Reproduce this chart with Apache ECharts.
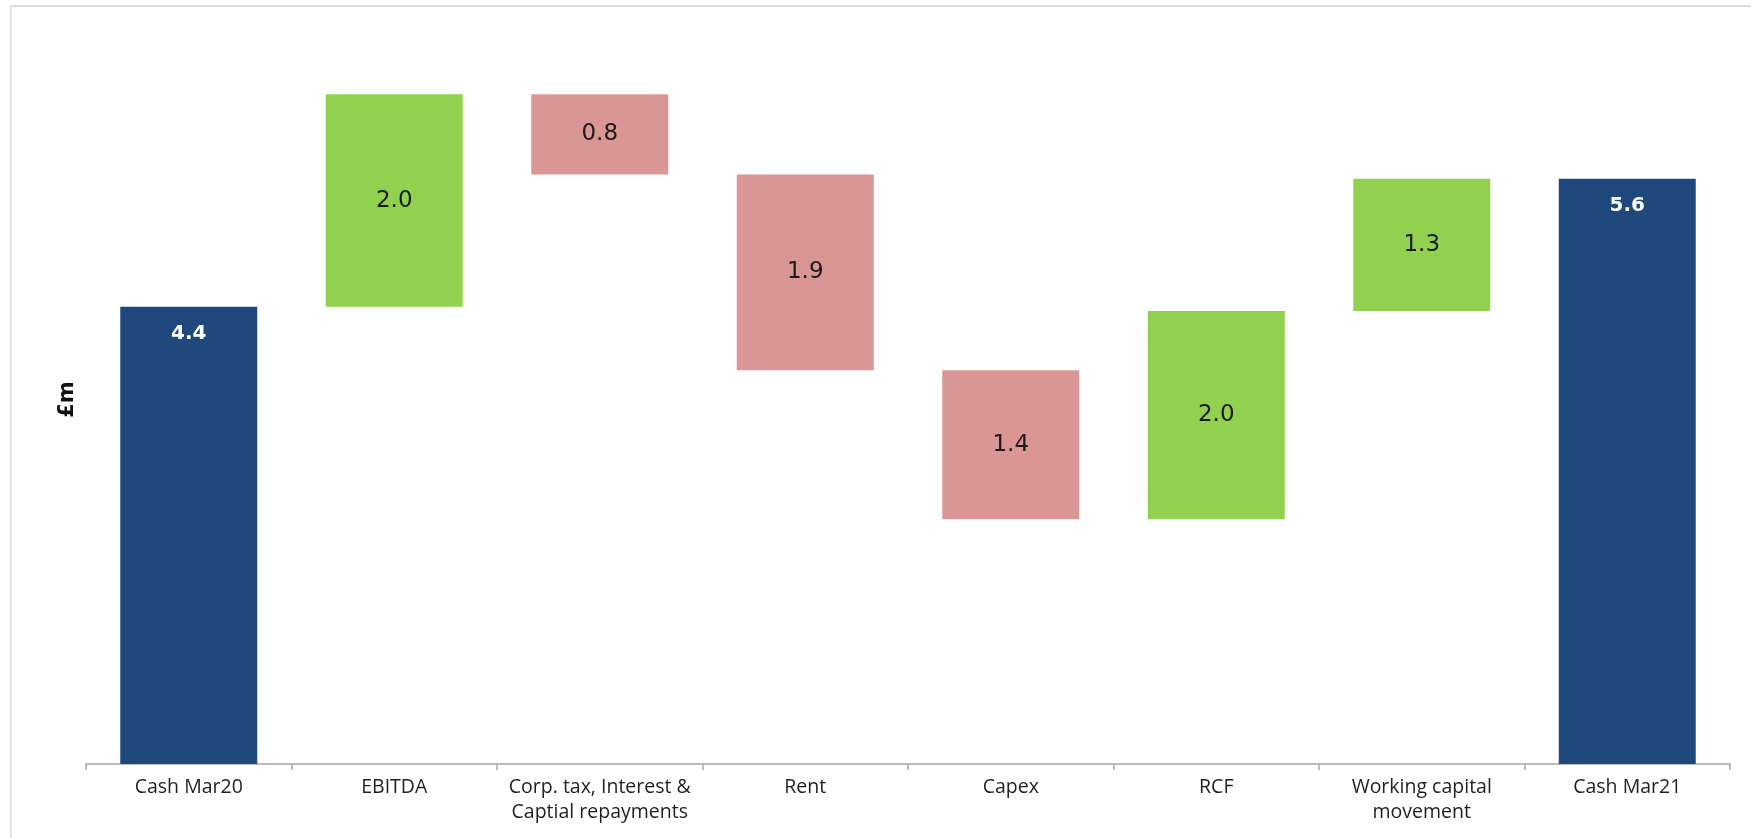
<!DOCTYPE html>
<html>
<head>
<meta charset="utf-8">
<script src="https://cdn.jsdelivr.net/npm/echarts@6/dist/echarts.min.js"></script>
<style>
  html, body { margin: 0; padding: 0; background: #ffffff; }
  #frame { position: absolute; left: 10px; top: 5px; width: 1741px; height: 833px;
           border-top: 2px solid #dcdcdc; border-left: 2px solid #e2e2e2; box-sizing: border-box; }
  #chart { position: absolute; left: 0; top: 0; width: 1751px; height: 838px; }
</style>
</head>
<body>
<div id="frame"></div>
<div id="chart"></div>
<script>
// ---- data ----
const categories = [
  'Cash Mar20',
  'EBITDA',
  'Corp. tax, Interest &\nCaptial repayments',
  'Rent',
  'Capex',
  'RCF',
  'Working capital\nmovement',
  'Cash Mar21'
];
const openingCash = 4.39;
const movements = [2.04, -0.77, -1.88, -1.43, 2.0, 1.27];
const closingCash = 5.62;

// ---- build waterfall series from the data ----
const baseData = ['-'];
const increaseData = ['-'];
const decreaseData = ['-'];
const totalData = [openingCash];
let level = openingCash;
movements.forEach(function (m) {
  if (m >= 0) {
    baseData.push(level);
    increaseData.push(m);
    decreaseData.push('-');
  } else {
    baseData.push(level + m);
    increaseData.push('-');
    decreaseData.push(-m);
  }
  totalData.push('-');
  level += m;
});
baseData.push('-');
increaseData.push('-');
decreaseData.push('-');
totalData.push(closingCash);

const fmt = function (p) { return Number(p.value).toFixed(1); };
const midLabel = {
  show: true, position: 'inside', formatter: fmt,
  color: '#1a1a1a', fontFamily: 'DejaVu Sans', fontSize: 23
};

const chart = echarts.init(document.getElementById('chart'), null, { renderer: 'canvas' });
chart.setOption({
  animation: false,
  grid: { left: 86, right: 21, top: 35, bottom: 74, containLabel: false, outerBoundsMode: 'none' },
  xAxis: {
    type: 'category',
    data: categories,
    axisLine: { lineStyle: { color: '#a6a6a6', width: 1.5 } },
    axisTick: { show: true, length: 6, lineStyle: { color: '#a6a6a6', width: 1.5 } },
    axisLabel: {
      color: '#1f1f1f', fontFamily: 'Open Sans', fontSize: 19.5,
      lineHeight: 25, margin: 11, interval: 0, width: 260, overflow: 'none'
    }
  },
  yAxis: {
    type: 'value',
    min: 0, max: 7,
    axisLine: { show: false },
    axisTick: { show: false },
    axisLabel: { show: false },
    splitLine: { show: false },
    name: '£m',
    nameLocation: 'middle',
    nameRotate: 90,
    nameGap: 8,
    nameTextStyle: { fontFamily: 'DejaVu Sans', fontWeight: 'bold', fontSize: 21, color: '#111' }
  },
  series: [
    {
      name: 'base', type: 'bar', stack: 'wf', barWidth: 137,
      itemStyle: { color: 'transparent' },
      emphasis: { disabled: true },
      data: baseData
    },
    {
      name: 'increase', type: 'bar', stack: 'wf', barWidth: 137,
      itemStyle: { color: '#92D050' },
      label: midLabel,
      data: increaseData
    },
    {
      name: 'decrease', type: 'bar', stack: 'wf', barWidth: 137,
      itemStyle: { color: '#D99694' },
      label: midLabel,
      data: decreaseData
    },
    {
      name: 'total', type: 'bar', stack: 'wf', barWidth: 137,
      itemStyle: { color: '#1F497D' },
      label: {
        show: true, position: 'insideTop', distance: 17, formatter: fmt,
        color: '#ffffff', fontFamily: 'DejaVu Sans', fontWeight: 'bold', fontSize: 20
      },
      data: totalData
    }
  ]
});
</script>
</body>
</html>
